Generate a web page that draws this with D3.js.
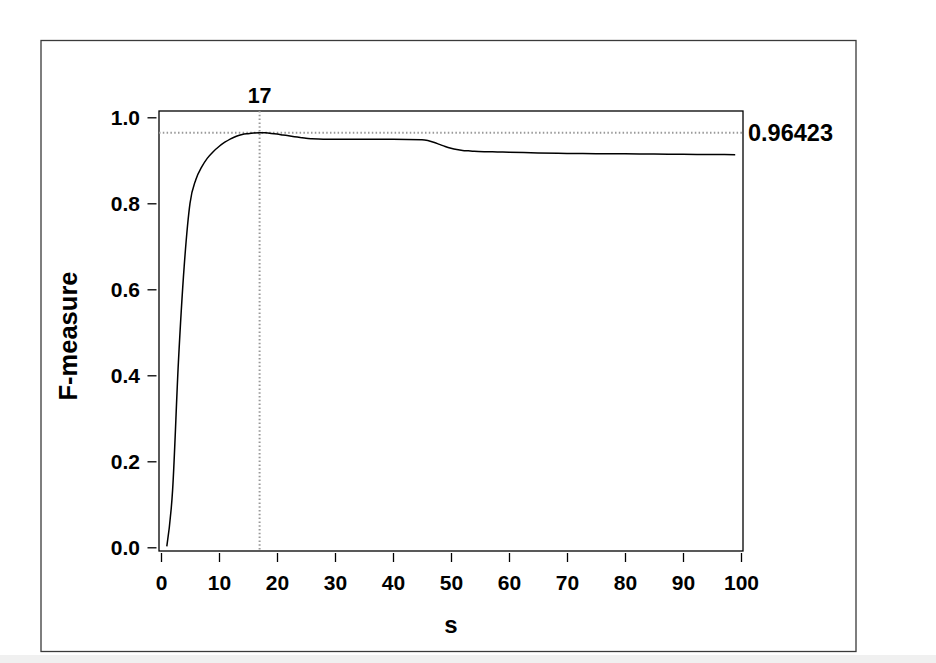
<!DOCTYPE html>
<html>
<head>
<meta charset="utf-8">
<script src="https://cdn.jsdelivr.net/npm/d3@7"></script>
<style>
  html, body { margin: 0; padding: 0; background: #fff; }
  svg { display: block; }
  text { font-family: "Liberation Sans", Arial, sans-serif; font-weight: bold; fill: #000; }
</style>
</head>
<body>
<script>
// ---- data ----
const sValues = [1, 2, 3, 4, 5, 6, 7, 8, 9, 10, 11, 12, 13, 14, 15, 16, 17, 18, 19, 20,
  21, 22, 23, 24, 25, 26, 28, 30, 35, 40, 45, 46, 47, 48, 49, 50, 51, 52, 53, 54, 56, 58,
  60, 65, 70, 75, 80, 85, 90, 95, 99];
const fValues = [0.002, 0.133, 0.43, 0.654, 0.80, 0.855, 0.884, 0.905, 0.920, 0.932, 0.942,
  0.950, 0.956, 0.960, 0.962, 0.9635, 0.96423, 0.9638, 0.9626, 0.961,
  0.959, 0.957, 0.955, 0.953, 0.951, 0.950, 0.949, 0.949, 0.949, 0.949, 0.948, 0.946, 0.942,
  0.937, 0.932, 0.928, 0.925, 0.923, 0.922, 0.921, 0.920, 0.9195,
  0.919, 0.917, 0.916, 0.9155, 0.915, 0.9145, 0.914, 0.9135, 0.913];
const xTicks = [0, 10, 20, 30, 40, 50, 60, 70, 80, 90, 100];
const yTicks = [0.0, 0.2, 0.4, 0.6, 0.8, 1.0];
const bestS = 17;
const bestF = 0.96423;
const xLabel = "s";
const yLabel = "F-measure";

// ---- layout ----
const W = 936, H = 663;
const svg = d3.select("body").append("svg").attr("width", W).attr("height", H);

svg.append("rect").attr("x", 0).attr("y", 655).attr("width", W).attr("height", 8).attr("fill", "#f0f0f0");
svg.append("rect").attr("x", 41).attr("y", 40.5).attr("width", 815).attr("height", 611)
  .attr("fill", "none").attr("stroke", "#3a3a3a").attr("stroke-width", 1.3);

const box = { left: 159, right: 743, top: 111, bottom: 551 };
const x = d3.scaleLinear().domain([0, 100]).range([161, 741]);
const y = d3.scaleLinear().domain([0, 1]).range([547.3, 117.3]);

// plot box
svg.append("rect").attr("x", box.left).attr("y", box.top)
  .attr("width", box.right - box.left).attr("height", box.bottom - box.top)
  .attr("fill", "none").attr("stroke", "#000").attr("stroke-width", 1.3);

// reference lines
svg.append("line").attr("x1", box.left).attr("x2", box.right)
  .attr("y1", y(bestF)).attr("y2", y(bestF))
  .attr("stroke", "#999").attr("stroke-width", 2).attr("stroke-dasharray", "1.5,2.3");
svg.append("line").attr("x1", x(bestS)).attr("x2", x(bestS))
  .attr("y1", box.top).attr("y2", box.bottom)
  .attr("stroke", "#999").attr("stroke-width", 2).attr("stroke-dasharray", "1.5,2.3");

// curve
const pts = sValues.map((s, i) => [s, fValues[i]]);
svg.append("path").datum(pts)
  .attr("fill", "none").attr("stroke", "#000").attr("stroke-width", 1.5)
  .attr("d", d3.line().x(d => x(d[0])).y(d => y(d[1])).curve(d3.curveMonotoneX));

// axes
const yAxis = d3.axisLeft(y).tickValues(yTicks).tickFormat(d3.format(".1f"))
  .tickSizeInner(9).tickSizeOuter(0).tickPadding(7.5);
const gy = svg.append("g").attr("transform", "translate(156.5,0)").call(yAxis);
gy.select(".domain").remove();
gy.selectAll("line").attr("stroke", "#000").attr("stroke-width", 1.3);
gy.selectAll("text").attr("font-size", 21).attr("font-family", "Liberation Sans, Arial, sans-serif")
  .attr("font-weight", "bold").attr("fill", "#000");

const xAxis = d3.axisBottom(x).tickValues(xTicks).tickFormat(d3.format("d"))
  .tickSizeInner(9).tickSizeOuter(0).tickPadding(13.5);
const gx = svg.append("g").attr("transform", "translate(0,553)").call(xAxis);
gx.select(".domain").remove();
gx.selectAll("line").attr("stroke", "#000").attr("stroke-width", 1.3);
gx.selectAll("text").attr("font-size", 21).attr("font-family", "Liberation Sans, Arial, sans-serif")
  .attr("font-weight", "bold").attr("fill", "#000");

// annotations
svg.append("text").attr("x", x(bestS)).attr("y", 103).attr("text-anchor", "middle")
  .attr("font-size", 21.5).text(String(bestS));
svg.append("text").attr("x", 748).attr("y", y(bestF) + 8.5).attr("text-anchor", "start")
  .attr("font-size", 23.5).text(bestF.toFixed(5));

// axis titles
svg.append("text").attr("x", (box.left + box.right) / 2).attr("y", 633).attr("text-anchor", "middle")
  .attr("font-size", 24).text(xLabel);
svg.append("text").attr("transform", "translate(76.5,336) rotate(-90)").attr("text-anchor", "middle")
  .attr("font-size", 25.5).text(yLabel);
</script>
</body>
</html>
